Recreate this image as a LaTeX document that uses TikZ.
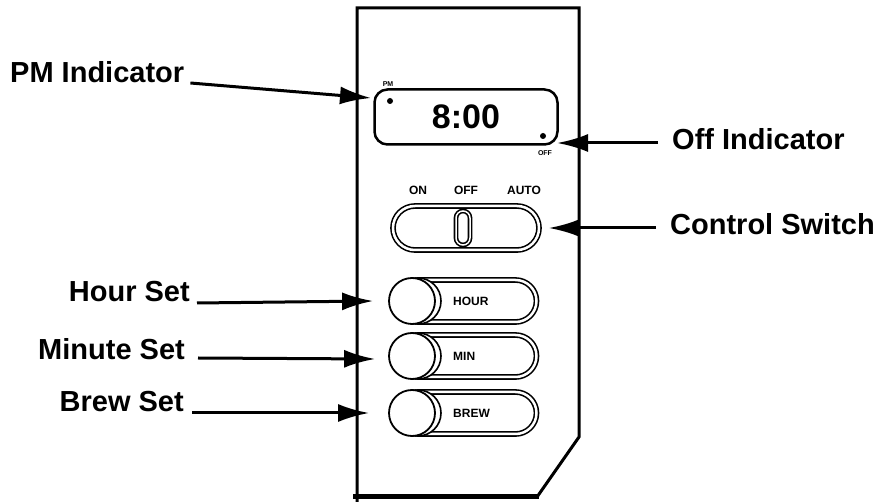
\documentclass[tikz,border=0pt]{standalone}
\usepackage{fontspec}
\setmainfont{Liberation Sans}
\usetikzlibrary{positioning}
\usetikzlibrary{arrows.meta}
\usetikzlibrary{shapes.misc}

\tikzset{
    callout/.style={font=\fontsize{29}{30}\selectfont\bfseries, inner sep=0pt},
    pointer/.style={-{Latex[length=31pt,width=18pt]}, line width=3pt},
    pill/.style={draw, rounded rectangle, double, double distance=2.5pt, line width=1.6pt, inner sep=0pt},
    knob/.style={draw, circle, fill=white, line width=1.8pt, minimum size=46pt, inner sep=0pt},
    tinytag/.style={font=\fontsize{12}{12}\selectfont\bfseries, inner sep=0pt},
}

\begin{document}
\begin{tikzpicture}[x=1pt, y=-1pt]
    \useasboundingbox (0,0) rectangle (876,502);

    % Panel outline
    \draw[line width=3pt] (357,502) -- (357,8) -- (579,8) -- (579,437) -- (537,497);
    \draw[line width=5pt] (353,497) -- (539,497);

    % Clock display
    \node[draw, line width=2.5pt, rounded corners=13pt, minimum width=183pt, minimum height=55pt,
          font=\fontsize{34}{34}\selectfont\bfseries] (display) at (466,117) {8:00};
    \node[circle, fill, inner sep=0pt, minimum size=6pt] (pmdot) at (390,101) {};
    \node[circle, fill, inner sep=0pt, minimum size=6pt] (offdot) at (543,136) {};
    \node[font=\fontsize{7}{7}\selectfont\bfseries, inner sep=0pt] (pmtag) at (388,84) {PM};
    \node[font=\fontsize{7}{7}\selectfont\bfseries, inner sep=0pt] (offtag) at (545,153) {OFF};

    % Control switch
    \node[tinytag] (onpos) at (418,190) {ON};
    \node[tinytag] (offpos) at (466,190) {OFF};
    \node[tinytag] (autopos) at (524,190) {AUTO};
    \node[pill, minimum width=146pt, minimum height=44pt] (switch) at (466,228) {};
    \node[draw, double, double distance=1.5pt, line width=1.6pt, rounded corners=7pt,
          minimum width=14pt, minimum height=34pt, inner sep=0pt] (slider) at (463,228) {};

    % Set buttons
    \foreach \n/\y/\t in {hour/301/HOUR, min/356/MIN, brew/413/BREW} {
        \node[pill, minimum width=139pt, minimum height=42pt] (\n pill) at (467,\y) {};
        \node[tinytag, anchor=west] (\n txt) at (453,\y) {\t};
        \draw[line width=1.6pt, fill=white] (418,\y) circle (23pt);
        \node[knob] (\n knob) at (412,\y) {};
    }

    % Labels
    \node[callout, anchor=base west] (pmlbl) at (10,83) {PM Indicator};
    \node[callout, anchor=base west] (offlbl) at (672,150) {Off Indicator};
    \node[callout, anchor=base west] (ctrllbl) at (670,235) {Control Switch};
    \node[callout, anchor=base east] (hourlbl) at (190,302) {Hour Set};
    \node[callout, anchor=base east] (minlbl) at (185,360) {Minute Set};
    \node[callout, anchor=base east] (brewlbl) at (184,412) {Brew Set};

    % Pointers
    \coordinate (pmtip) at (371,98);
    \coordinate (offtip) at (557,143);
    \draw[pointer] ([xshift=6pt]pmlbl.base east) -- (pmtip);
    \draw[pointer] ([xshift=-14pt, yshift=7pt]offlbl.base west) -- (offtip);
    \draw[pointer] ([xshift=-14pt, yshift=7pt]ctrllbl.base west) -- ([xshift=9pt]switch.east);
    \draw[pointer] ([xshift=7pt, yshift=-1pt]hourlbl.base east) -- ([xshift=-15pt]hourknob.west);
    \draw[pointer] ([xshift=13pt, yshift=2pt]minlbl.base east) -- ([xshift=-13pt, yshift=-3pt]minknob.west);
    \draw[pointer] ([xshift=8pt, yshift=-1pt]brewlbl.base east) -- ([xshift=-19pt]brewknob.west);
\end{tikzpicture}
\end{document}
